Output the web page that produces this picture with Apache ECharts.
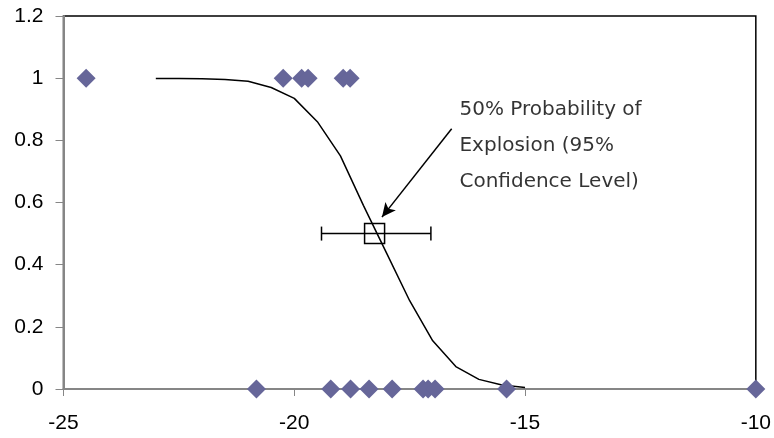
<!DOCTYPE html>
<html>
<head>
<meta charset="utf-8">
<script src="https://cdn.jsdelivr.net/npm/echarts@6/dist/echarts.min.js"></script>
<style>html,body{margin:0;padding:0;background:#fff;}#c{width:774px;height:438px;}</style>
</head>
<body>
<div id="c"></div>
<script>
// Observed test outcomes: [temperature, outcome]
var explodeX = [-24.51, -20.24, -19.84, -19.70, -18.94, -18.79];
var explodeY = [1, 1, 1, 1, 1, 1];
var noExplodeX = [-20.82, -19.21, -18.78, -18.38, -17.88, -17.21, -17.10, -16.95, -15.40, -10];
var noExplodeY = [0, 0, 0, 0, 0, 0, 0, 0, 0, 0];
// Fitted probability curve
var curveX = [-23, -22.5, -22, -21.5, -21, -20.5, -20, -19.5, -19, -18.5, -18, -17.5, -17, -16.5, -16, -15.5, -15];
var curveY = [0.999, 0.999, 0.998, 0.996, 0.99, 0.97, 0.935, 0.86, 0.75, 0.59, 0.437, 0.284, 0.155, 0.072, 0.031, 0.013, 0.005];
// 50% point with 95% confidence interval: [x, y, low, high]
var fifty = [-18.26, 0.5, -19.41, -17.04];
// Annotation
var arrowFrom = [-16.59, 0.837];
var arrowTo = [-18.10, 0.553];
var labelAnchor = [-16.41, 0.956];
var labelText = '50% Probability of\nExplosion (95%\nConfidence Level)';
// Axis ticks
var xMin = -25, xMax = -10, xStep = 5;
var yMin = 0, yMax = 1.2, yStep = 0.2;

function zip(a, b) { return a.map(function (v, i) { return [v, b[i]]; }); }

var chart = echarts.init(document.getElementById('c'), null, { renderer: 'canvas' });
var FONT = 'Liberation Sans';
chart.setOption({
  animation: false,
  backgroundColor: '#ffffff',
  grid: { left: 63.5, right: 18, top: 16, bottom: 49, show: true, borderColor: '#000', borderWidth: 1.5, backgroundColor: 'transparent' },
  xAxis: {
    type: 'value', min: xMin, max: xMax, interval: xStep,
    axisLine: { show: true, onZero: false, lineStyle: { color: '#868686', width: 2 } },
    axisTick: { show: true, length: 7, lineStyle: { color: '#868686', width: 1 } },
    axisLabel: { color: '#000', fontFamily: FONT, fontSize: 21, margin: 24 },
    splitLine: { show: false }
  },
  yAxis: {
    type: 'value', min: yMin, max: yMax, interval: yStep,
    axisLine: { show: true, onZero: false, lineStyle: { color: '#868686', width: 2 } },
    axisTick: { show: true, length: 8, lineStyle: { color: '#868686', width: 1 } },
    axisLabel: { color: '#000', fontFamily: FONT, fontSize: 21, margin: 20 },
    splitLine: { show: false }
  },
  series: [
    {
      type: 'line', data: zip(curveX, curveY), symbol: 'none', z: 3,
      lineStyle: { color: '#000', width: 1.5 }
    },
    {
      type: 'custom', z: 4,
      data: [fifty],
      renderItem: function (params, api) {
        var y = api.value(1);
        var lo = api.coord([api.value(2), y]);
        var hi = api.coord([api.value(3), y]);
        var c = api.coord([api.value(0), y]);
        var cap = 7, bs = 10;
        var st = { stroke: '#000', lineWidth: 1.5, fill: null };
        return {
          type: 'group',
          children: [
            { type: 'line', shape: { x1: lo[0], y1: lo[1], x2: hi[0], y2: hi[1] }, style: st },
            { type: 'line', shape: { x1: lo[0], y1: lo[1] - cap, x2: lo[0], y2: lo[1] + cap }, style: st },
            { type: 'line', shape: { x1: hi[0], y1: hi[1] - cap, x2: hi[0], y2: hi[1] + cap }, style: st },
            { type: 'rect', shape: { x: c[0] - bs, y: c[1] - bs, width: 2 * bs, height: 2 * bs }, style: { stroke: '#000', lineWidth: 1.5, fill: 'rgba(0,0,0,0)' } }
          ]
        };
      }
    },
    {
      type: 'scatter', data: zip(explodeX, explodeY), symbol: 'diamond', symbolSize: 19, z: 5,
      itemStyle: { color: '#666699', opacity: 1 }
    },
    {
      type: 'scatter', data: zip(noExplodeX, noExplodeY), symbol: 'diamond', symbolSize: 19, z: 5,
      itemStyle: { color: '#666699', opacity: 1 }
    },
    {
      type: 'scatter', data: [labelAnchor], symbolSize: 1, z: 6, silent: true,
      itemStyle: { color: 'rgba(0,0,0,0)' },
      label: {
        show: true, position: [0, 0], align: 'left', verticalAlign: 'top',
        formatter: labelText, color: '#000', fontFamily: 'DejaVu Sans', fontSize: 20, lineHeight: 36
      },
      markLine: {
        silent: true, symbol: ['none', 'arrow'], symbolSize: [10, 14],
        lineStyle: { color: '#000', width: 1.5, type: 'solid' },
        label: { show: false },
        data: [[{ coord: arrowFrom }, { coord: arrowTo }]]
      }
    }
  ]
});
</script>
</body>
</html>
